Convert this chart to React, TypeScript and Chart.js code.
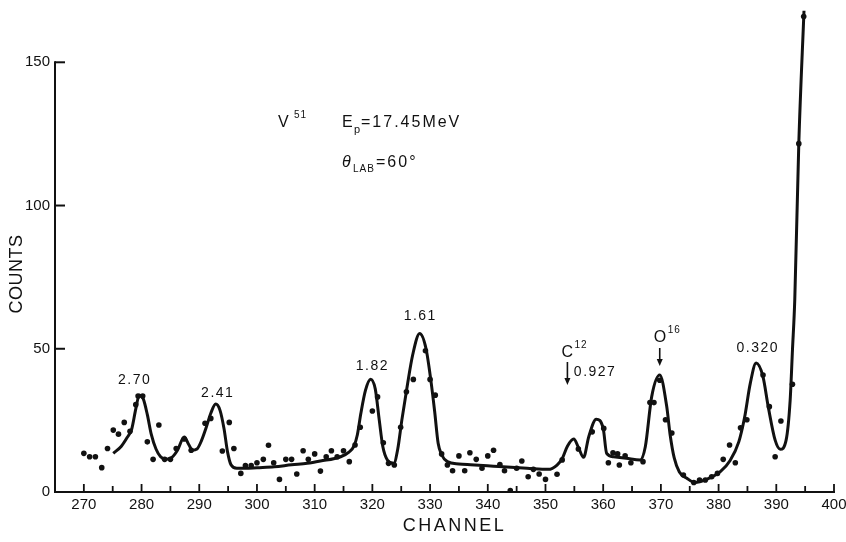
import { useEffect, useRef } from "react";
import { Chart, registerables } from "chart.js";

Chart.register(...registerables);

// ---- data ----
const dotChannels = [
  270, 271, 272, 273.1, 274.1, 275.1, 276, 277, 278, 279, 279.4, 280.2, 281, 282, 283, 284, 285, 286,
  287.4, 288.6, 291, 292, 294, 295.2, 296, 297.2, 298, 299, 300, 301.1, 302, 302.9, 303.9, 305, 306,
  306.9, 308, 308.9, 310, 311, 312, 312.9, 313.9, 315, 316, 317, 317.9, 320, 320.9, 321.9, 322.8,
  323.8, 324.9, 325.9, 327.1, 329.2, 330, 330.9, 332, 333, 333.9, 335, 336, 336.9, 338, 339, 340,
  341, 342.1, 342.9, 343.9, 345, 345.9, 347, 347.9, 348.9, 350, 352, 352.9, 355.7, 358.1, 360.1,
  360.9, 361.7, 362.5, 362.8, 363.8, 364.8, 366.9, 368.1, 368.8, 369.8, 370.8, 371.9, 373.9, 375.7,
  376.7, 377.7, 378.8, 379.8, 380.8, 381.9, 382.9, 383.8, 384.9, 387.7, 388.8, 389.8, 390.8, 392.8,
  393.9, 394.75,
];
const dotCounts = [
  13.5, 12.3, 12.3, 8.5, 15.2, 21.6, 20.2, 24.3, 21.2, 30.5, 33.5, 33.5, 17.5, 11.4, 23.4, 11.4, 11.4, 15.2,
  18.5, 14.6, 24, 25.7, 14.3, 24.3, 15.2, 6.5, 9.2, 9.2, 10.2, 11.4, 16.3, 10.2, 4.4, 11.4, 11.4,
  6.3, 14.4, 11.4, 13.3, 7.3, 12.3, 14.4, 12.3, 14.4, 10.6, 16.4, 22.6, 28.3, 33.2, 17.2, 10,
  9.4, 22.6, 35, 39.3, 49.3, 39.3, 33.8, 13.3, 9.4, 7.4, 12.6, 7.4, 13.7, 11.4, 8.3, 12.6,
  14.6, 9.6, 7.4, 0.5, 8.3, 10.8, 5.3, 7.9, 6.3, 4.4, 6.2, 11.2, 15, 21, 22.2,
  10.2, 13.7, 13.3, 9.4, 12.6, 10.2, 10.6, 31.2, 31.2, 39, 25.2, 20.6, 5.9, 3.3,
  4.2, 4.2, 5.3, 6.5, 11.4, 16.4, 10.2, 22.4, 25.2, 40.8, 29.8, 12.3, 24.8, 37.6,
  121.6, 166,
];

const fitChannels = [
  275.1, 276.5, 277.5, 278.3, 279.0, 279.6, 280.3, 281.0, 281.7, 282.5, 283.3, 284.2, 285.2, 286.2,
  287.4, 288.2, 288.8, 289.6, 290.4, 291.2, 292.0, 292.85, 293.6, 294.3, 294.9, 295.5, 296.5, 298,
  300, 303, 306, 308.7, 311, 314.5, 316, 316.8, 317.4, 318.0, 318.8, 319.7, 320.5, 321.2, 321.8,
  322.6, 323.7, 324.4, 325.1, 326, 327, 328.2, 329.3, 330.2, 330.8, 331.4, 332, 333, 335, 337, 341,
  346.8, 350.5, 352, 352.9, 353.8, 354.9, 355.7, 356.6, 357.5, 358.8, 360.0, 360.6, 361.8, 364,
  366.4, 367.3, 368.4, 369.8, 371.0, 371.6, 372.3, 373.2, 374.5, 375.9, 377.9, 380.3, 382, 383.5,
  384.5, 385.5, 386.5, 387.7, 388.6, 389.8, 390.7, 391.7, 392.4, 392.8, 393.2, 393.9, 394.8,
];
const fitCounts = [
  13.5, 16, 19, 22, 29, 33.8, 32.5, 27, 20, 15, 12.3, 11.4, 12, 14.5,
  19.2, 16.5, 14.6, 15, 18, 22.5, 27.5, 30.7, 28.5, 22, 14, 9.5, 8.3, 8.3,
  8.5, 8.8, 9.5, 10, 10.8, 12.3, 14, 16, 20, 27.4, 35.5, 39.4, 36, 25, 16,
  11.2, 10, 15, 25, 36.5, 48, 55.3, 50, 38, 28, 17, 13, 10.6, 9.8, 9.5, 9,
  8.3, 7.9, 9.4, 11.7, 16, 18.5, 15.6, 12.1, 19.3, 25.4, 22.2, 13.5, 12.3, 11.8,
  11.2, 15.8, 33.2, 40.8, 30, 20, 12, 7, 4.8, 3.3, 4.4, 7.1, 11, 17.5,
  26, 38, 45, 40.2, 29.8, 18.1, 14.9, 18.1, 32, 49.5, 67, 121.6, 168,
];

const xTickValues = [270, 280, 290, 300, 310, 320, 330, 340, 350, 360, 370, 380, 390, 400];
const xMinorTickValues = [275, 285, 295, 305, 315, 325, 335, 345, 355, 365, 375, 385, 395];
const yTickValues = [0, 50, 100, 150];

const xTitle = "CHANNEL";
const yTitle = "COUNTS";

// peak labels, anchored in data coordinates (channel, counts)
const peakLabelTexts = ["2.70", "2.41", "1.82", "1.61", "0.927", "0.320"];
const peakLabelChannels = [278.8, 293.2, 320.0, 328.3, 358.6, 386.8];
const peakLabelCounts = [39.1, 34.6, 44.0, 61.4, 41.9, 50.3];

const FONT = "'Liberation Sans', Arial, sans-serif";
const INK = "#111";

function txt(ctx: CanvasRenderingContext2D, s: string, x: number, y: number, size: number, align: CanvasTextAlign = "left", spacing = 0, style = "") {
  ctx.font = `${style} ${size}px ${FONT}`.trim();
  (ctx as any).letterSpacing = `${spacing}px`;
  ctx.textAlign = align;
  ctx.fillText(s, x, y);
}

function arrowDown(ctx: CanvasRenderingContext2D, x: number, y1: number, y2: number) {
  ctx.beginPath();
  ctx.moveTo(x, y1);
  ctx.lineTo(x, y2 - 5);
  ctx.lineWidth = 1.6;
  ctx.stroke();
  ctx.beginPath();
  ctx.moveTo(x - 3, y2 - 7);
  ctx.lineTo(x + 3, y2 - 7);
  ctx.lineTo(x, y2);
  ctx.closePath();
  ctx.fill();
}

const decorPlugin = {
  id: "decor",
  afterDraw(chart: any) {
    const { ctx } = chart;
    const x = chart.scales.x;
    const y = chart.scales.y;
    ctx.save();
    ctx.strokeStyle = INK;
    ctx.fillStyle = INK;
    ctx.lineWidth = 2;
    ctx.lineCap = "square";
    const left = x.left;
    const base = y.getPixelForValue(0);
    // axes
    ctx.beginPath();
    ctx.moveTo(left, y.getPixelForValue(150));
    ctx.lineTo(left, base);
    ctx.lineTo(x.getPixelForValue(400), base);
    ctx.stroke();
    ctx.lineCap = "butt";
    // y ticks (inside)
    yTickValues.forEach((v) => {
      const py = y.getPixelForValue(v);
      ctx.beginPath();
      ctx.moveTo(left, py);
      ctx.lineTo(left + 10, py);
      ctx.stroke();
    });
    // x ticks (inside)
    ctx.lineWidth = 1.8;
    xTickValues.forEach((v) => {
      const px = x.getPixelForValue(v);
      ctx.beginPath();
      ctx.moveTo(px, base);
      ctx.lineTo(px, base - 8);
      ctx.stroke();
    });
    xMinorTickValues.forEach((v) => {
      const px = x.getPixelForValue(v);
      ctx.beginPath();
      ctx.moveTo(px, base);
      ctx.lineTo(px, base - 6);
      ctx.stroke();
    });

    ctx.textBaseline = "middle";
    // axis titles
    txt(ctx, xTitle, (x.left + x.right) / 2 + 10, 526, 18, "center", 2.5);
    ctx.save();
    ctx.translate(17, 274);
    ctx.rotate(-Math.PI / 2);
    txt(ctx, yTitle, 0, 0, 18, "center", 0.5);
    ctx.restore();

    // peak labels
    peakLabelTexts.forEach((s, i) => {
      txt(ctx, s, x.getPixelForValue(peakLabelChannels[i]), y.getPixelForValue(peakLabelCounts[i]), 14, "center", 1.5);
    });

    // header
    ctx.textBaseline = "alphabetic";
    txt(ctx, "V", 278, 127, 16, "left", 1);
    txt(ctx, "51", 294, 118, 10, "left", 1);
    txt(ctx, "E", 342, 127, 16, "left", 1);
    txt(ctx, "p", 354, 133, 11, "left", 0);
    txt(ctx, "=17.45MeV", 361, 127, 16, "left", 2);
    txt(ctx, "\u03b8", 342, 167, 16, "left", 0, "italic");
    txt(ctx, "LAB", 353, 172, 10, "left", 1);
    txt(ctx, "=60\u00b0", 376, 167, 16, "left", 2);

    // C12 marker
    const cx = x.getPixelForValue(353.8);
    txt(ctx, "C", cx - 6, 357, 16, "left", 0);
    txt(ctx, "12", cx + 7, 348, 10, "left", 1);
    arrowDown(ctx, cx, 362, 385);
    // O16 marker
    const ox = x.getPixelForValue(369.8);
    txt(ctx, "O", ox - 6, 342, 16, "left", 0);
    txt(ctx, "16", ox + 8, 333, 10, "left", 1);
    arrowDown(ctx, ox, 348, 366);

    ctx.restore();
  },
};

export default function App() {
  const ref = useRef<HTMLCanvasElement | null>(null);
  useEffect(() => {
    if (!ref.current) return;
    const chart = new Chart(ref.current, {
      type: "scatter",
      data: {
        datasets: [
          {
            label: "fit",
            data: fitChannels.map((c, i) => ({ x: c, y: fitCounts[i] })),
            showLine: true,
            borderColor: INK,
            borderWidth: 3,
            pointRadius: 0,
            cubicInterpolationMode: "monotone",
            order: 2,
          } as any,
          {
            label: "counts",
            data: dotChannels.map((c, i) => ({ x: c, y: dotCounts[i] })),
            showLine: false,
            pointRadius: 2.8,
            pointBackgroundColor: INK,
            pointBorderWidth: 0,
            order: 1,
          },
        ],
      },
      options: {
        animation: false,
        responsive: false,
        maintainAspectRatio: false,
        events: [],
        layout: { padding: { left: 0, right: 12, top: 5, bottom: 0 } },
        plugins: { legend: { display: false }, tooltip: { enabled: false } },
        scales: {
          x: {
            type: "linear",
            min: 265,
            max: 400,
            grid: { display: false, drawTicks: false },
            border: { display: false },
            ticks: { font: { family: FONT, size: 15 }, color: INK, padding: 4, maxRotation: 0 },
            afterBuildTicks: (s: any) => {
              s.ticks = xTickValues.map((v) => ({ value: v }));
            },
            afterFit: (s: any) => {
              s.height = 50;
              s.paddingLeft = 0;
              s.paddingRight = 0;
            },
          },
          y: {
            type: "linear",
            min: 0,
            max: 170,
            grid: { display: false, drawTicks: false },
            border: { display: false },
            ticks: { font: { family: FONT, size: 15 }, color: INK, padding: 5 },
            afterBuildTicks: (s: any) => {
              s.ticks = yTickValues.map((v) => ({ value: v }));
            },
            afterFit: (s: any) => {
              s.width = 55;
              s.paddingTop = 0;
              s.paddingBottom = 0;
            },
          },
        },
      },
      plugins: [decorPlugin],
    });
    return () => chart.destroy();
  }, []);
  return (
    <div style={{ position: "fixed", left: 0, top: 0, width: 846, height: 542, background: "#fff" }}>
      <canvas ref={ref} width={846} height={542} style={{ width: 846, height: 542, display: "block" }} />
    </div>
  );
}
